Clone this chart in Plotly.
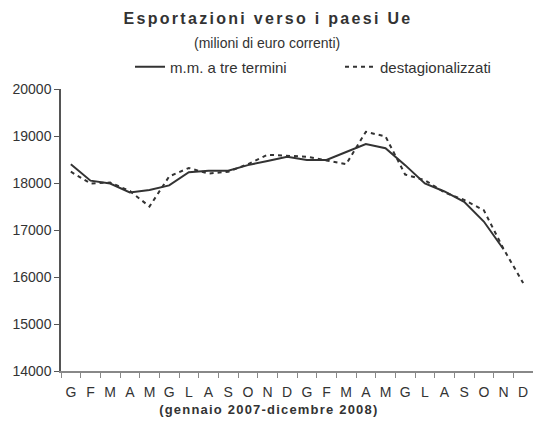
import plotly.graph_objects as go

# Data
periods = [f"{m} {y}" for y in (2007, 2008) for m in
           ["gen", "feb", "mar", "apr", "mag", "giu", "lug", "ago", "set", "ott", "nov", "dic"]]
month_letters = ["G", "F", "M", "A", "M", "G", "L", "A", "S", "O", "N", "D"] * 2

media_mobile = [18400, 18050, 17990, 17800, 17850, 17950, 18230, 18260, 18260, 18380, 18470, 18560,
                18490, 18490, 18660, 18830, 18740, 18380, 17990, 17820, 17600, 17180, 16590, None]
destagionalizzati = [18240, 17990, 18010, 17830, 17500, 18140, 18320, 18200, 18240, 18400, 18600, 18580,
                     18560, 18480, 18400, 19090, 18990, 18180, 18060, 17800, 17640, 17420, 16600, 15870]

y_ticks = [14000, 15000, 16000, 17000, 18000, 19000, 20000]

FONT = "Liberation Sans, Arial, Helvetica, sans-serif"
TXT = "#333333"
LINE = "#333333"

fig = go.Figure()
fig.add_trace(go.Scatter(
    x=periods, y=media_mobile, mode="lines", name="m.m. a tre termini",
    line=dict(color=LINE, width=2), connectgaps=False))
fig.add_trace(go.Scatter(
    x=periods, y=destagionalizzati, mode="lines", name="destagionalizzati",
    line=dict(color=LINE, width=2, dash="4px,4px")))

W, H = 533, 423
L, R, T, B = 61, 0, 89, 52
pw, ph = W - L - R, H - T - B

def px_x(px):
    return (px - L) / pw

def px_y(py):
    return (H - B - py) / ph

fig.update_layout(
    width=W, height=H,
    margin=dict(l=L, r=R, t=T, b=B, autoexpand=False),
    paper_bgcolor="white", plot_bgcolor="white",
    font=dict(family=FONT, color=TXT),
    title=dict(text="Esportazioni verso i paesi Ue", xref="container", yref="container",
               x=268 / W, y=1 - 18 / H, xanchor="center", yanchor="middle",
               font=dict(size=16, weight=700, color=TXT, family=FONT)),
    showlegend=True,
    legend=dict(orientation="h", x=px_x(130), y=px_y(67), xanchor="left", yanchor="middle",
                font=dict(size=15, color=TXT, family=FONT), bgcolor="rgba(0,0,0,0)",
                entrywidth=165, entrywidthmode="pixels", tracegroupgap=0),
    annotations=[
        dict(text="(milioni di euro correnti)", xref="paper", yref="paper",
             x=px_x(267), y=px_y(43), xanchor="center", yanchor="middle", showarrow=False,
             font=dict(size=14, color=TXT, family=FONT)),
        dict(text="(gennaio 2007-dicembre 2008)", xref="paper", yref="paper",
             x=px_x(269), y=px_y(409), xanchor="center", yanchor="middle", showarrow=False,
             font=dict(size=13, weight=700, color=TXT, family=FONT)),
    ],
)

fig.update_xaxes(
    type="category", categoryorder="array", categoryarray=periods,
    range=[-0.5, len(periods) - 0.5],
    tickmode="array", tickvals=periods, ticktext=month_letters, tickangle=0,
    tickson="boundaries", ticks="outside", ticklen=5, tickcolor="#888888", tickwidth=1,
    ticklabelstandoff=7,
    showline=True, linecolor="#888888", linewidth=1.5,
    showgrid=False, zeroline=False, automargin=False,
    tickfont=dict(size=14, color=TXT, family=FONT),
)
fig.update_yaxes(
    range=[14000, 20000], tickmode="array", tickvals=y_ticks,
    ticktext=[str(v) for v in y_ticks],
    ticks="outside", ticklen=5, tickcolor="#555555", tickwidth=1,
    showline=True, linecolor="#555555", linewidth=1.5,
    showgrid=False, zeroline=False, automargin=False,
    tickfont=dict(size=14, color=TXT, family=FONT),
)

post = """
document.body.style.margin = '0';
document.body.style.padding = '0';
var gd = document.getElementById('{plot_id}');
function sp(){
  var t = gd.querySelector('.gtitle'); if (t) t.style.letterSpacing = '2.3px';
  var a = gd.querySelector('.annotation[data-index="1"] .annotation-text');
  if (a) a.style.letterSpacing = '1.2px';
}
sp();
if (gd.on) gd.on('plotly_afterplot', sp);
"""

fig.write_html("out.html", post_script=post, config={"displayModeBar": False})
